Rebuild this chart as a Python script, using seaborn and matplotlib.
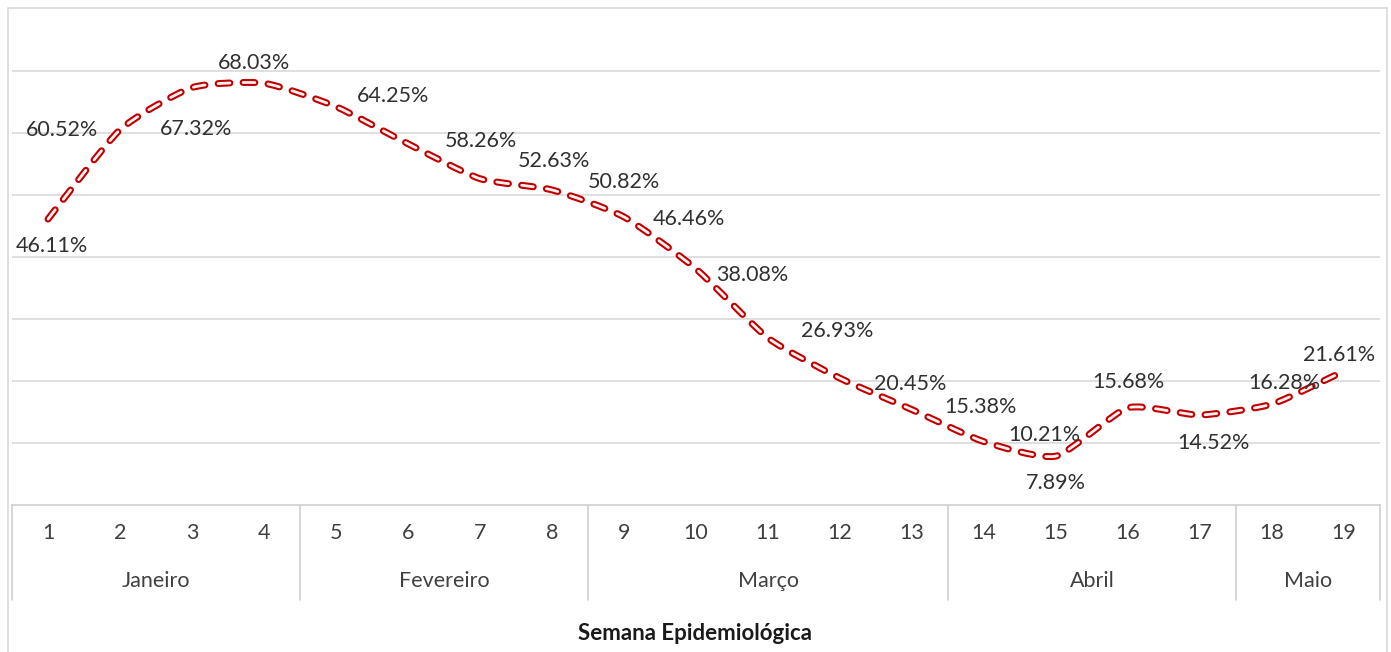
import matplotlib
matplotlib.use('Agg')

import numpy as np
import matplotlib.pyplot as plt
import matplotlib.transforms as mtransforms
from matplotlib.path import Path
from matplotlib.patches import PathPatch, Rectangle
import seaborn as sns


weeks = list(range(1, 20))
values = [46.11, 60.52, 67.32, 68.03, 64.25, 58.26, 52.63, 50.82, 46.46, 38.08,
          26.93, 20.45, 15.38, 10.21, 7.89, 15.68, 14.52, 16.28, 21.61]
months = ['Janeiro', 'Fevereiro', 'Março', 'Abril', 'Maio']
month_weeks = [4, 4, 5, 4, 2]

# label offsets (pixels, from the point to the label centre)
label_offsets = [(4, -27), (-58, 0), (4, -41), (-10, 20), (57, 11), (73, 3), (74, 18),
                 (72, 8), (65, -2), (56, -6), (69, 7), (70, -6), (68, 3), (60, 7),
                 (0, -27), (0, 26), (13, -28), (12, 21), (-5, 16)]


def smooth_path(x, y, k=0.1):
    # bezier through the points, a light "smoothed line" like the spreadsheet one
    pts = np.column_stack([x, y]).astype(float)
    p = np.vstack([pts[0], pts, pts[-1]])
    verts = [pts[0]]
    codes = [Path.MOVETO]
    for i in range(1, len(p) - 2):
        c1 = p[i] + (p[i + 1] - p[i - 1]) * k
        c2 = p[i + 1] - (p[i + 2] - p[i]) * k
        verts += [c1, c2, p[i + 1]]
        codes += [Path.CURVE4] * 3
    return Path(verts, codes)


sns.set_theme(style="white")
plt.rcParams['font.family'] = ['Lato', 'DejaVu Sans']
plt.rcParams['lines.scale_dashes'] = False

W, H = 1391, 652
fig = plt.figure(figsize=(W / 100, H / 100), dpi=100)
left, right, top, bottom = 12, 1380, 9, 505
ax = fig.add_axes([left / W, 1 - bottom / H, (right - left) / W, (bottom - top) / H])

ax.set_xlim(0.5, 19.5)
ax.set_ylim(0, 80)

# grid
ax.set_yticks(range(10, 80, 10))
ax.set_yticklabels([])
ax.yaxis.grid(True, color='#d9d9d9', lw=1.2)
ax.tick_params(axis='y', length=0)
for s in ['left', 'right', 'top']:
    ax.spines[s].set_visible(False)
ax.spines['bottom'].set_color('#d0d0d0')
ax.spines['bottom'].set_linewidth(1.2)

# smoothed dashed line, outlined dashes
path = smooth_path(weeks, values)
dash = (0, (8.5, 9.5))
outer = PathPatch(path, fill=False, edgecolor='#c00000', lw=5.0, linestyle=dash,
                  capstyle='round', joinstyle='round', zorder=3)
inner = PathPatch(path, fill=False, edgecolor='#fdf0f0', lw=2.0, linestyle=dash,
                  capstyle='round', joinstyle='round', zorder=4)
ax.add_patch(outer)
ax.add_patch(inner)

# data labels
for w, v, (dx, dy) in zip(weeks, values, label_offsets):
    ax.annotate(f'{v:.2f}%', (w, v), xytext=(dx, dy), textcoords='offset pixels',
                ha='center', va='center', fontsize=15.5, color='#303030', zorder=5)

# category table below the axis
ax.set_xticks(weeks)
ax.set_xticklabels([str(w) for w in weeks], fontsize=15.5, color='#404040')
ax.tick_params(axis='x', length=0, pad=13)

trans = mtransforms.blended_transform_factory(ax.transData, ax.transAxes)
table_bottom = (bottom - 600) / (bottom - top)
month_y = (bottom - 581) / (bottom - top)
bounds = np.concatenate([[0.5], 0.5 + np.cumsum(month_weeks)])
for b in bounds:
    ax.plot([b, b], [0, table_bottom], transform=trans, color='#d0d0d0', lw=1.2,
            clip_on=False)
for m, a, b in zip(months, bounds[:-1], bounds[1:]):
    ax.text((a + b) / 2, month_y, m, transform=trans, ha='center', va='center',
            fontsize=15.5, color='#404040')

fig.text(0.5, 1 - 634 / H, 'Semana Epidemiológica', ha='center', va='center',
         fontsize=16, fontweight='bold', color='#1a1a1a')

# chart border
fig.patches.append(Rectangle((8 / W, -0.05), (1387 - 8) / W, 1.05 - 8 / H,
                             transform=fig.transFigure, fill=False,
                             edgecolor='#d9d9d9', lw=1.2))

fig.savefig('out.png', dpi=100)
